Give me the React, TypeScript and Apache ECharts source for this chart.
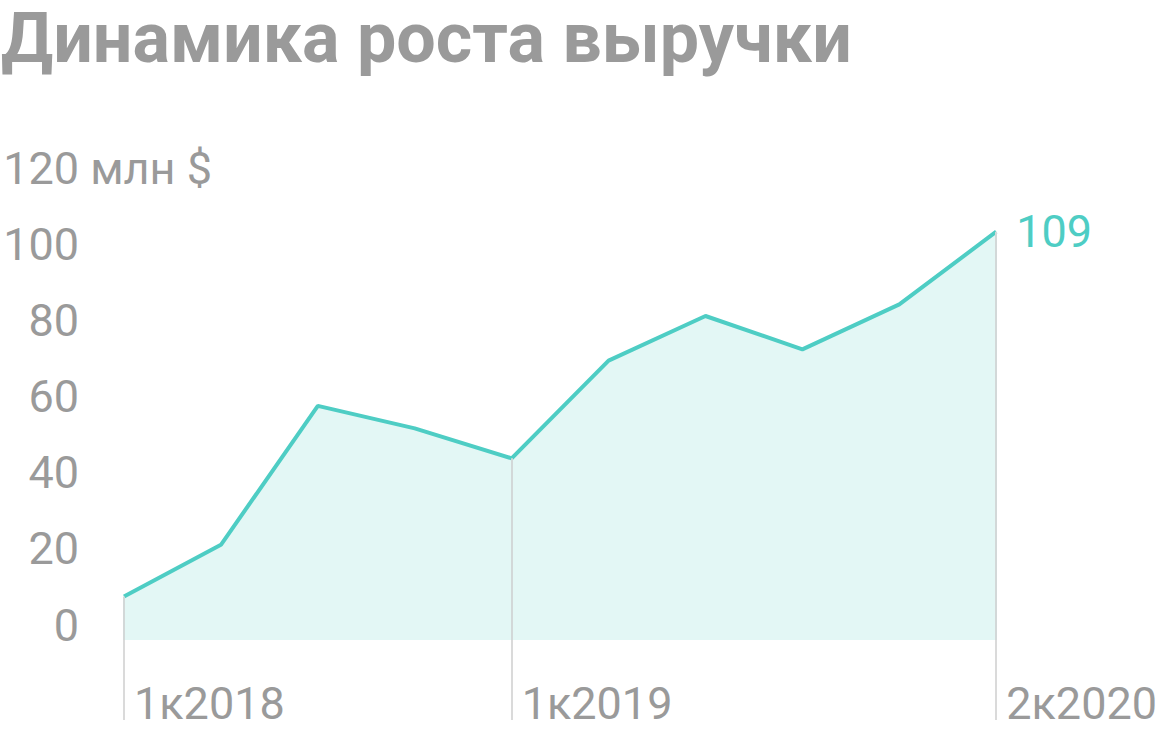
import React, { useEffect, useRef } from 'react';
import * as echarts from 'echarts';

const quarters = ['1к2018', '2к2018', '3к2018', '4к2018', '1к2019', '2к2019', '3к2019', '4к2019', '1к2020', '2к2020'];
const revenue = [11.6, 25.4, 62.5, 56.5, 48.5, 74.6, 86.5, 77.6, 89.6, 109];
const markedIdx = [0, 4, 9];
const yTicks = [0, 20, 40, 60, 80, 100, 120];
const unit = 'млн $';

const TEAL = '#4ecdc4';
const GRAY = '#9a9a9a';
const FONT = 'Roboto';
const FS = 45;

const App: React.FC = () => {
  const chartRef = useRef<HTMLDivElement>(null);

  useEffect(() => {
    if (!chartRef.current) return;
    const chart = echarts.init(chartRef.current, undefined, { renderer: 'svg' });

    const option = {
      animation: false,
      textStyle: { fontFamily: FONT },
      title: {
        text: 'Динамика роста выручки',
        left: 1,
        top: 3,
        padding: 0,
        textStyle: { fontSize: 70, fontWeight: 'bold', color: GRAY, fontFamily: FONT },
      },
      grid: [
        { left: 124, right: 163, top: 190.5, bottom: 96 },
        { left: 79, right: 163, top: 168.5, bottom: 111 },
      ],
      xAxis: [
        {
          type: 'category',
          gridIndex: 0,
          data: quarters,
          boundaryGap: false,
          axisLine: { show: false },
          axisTick: {
            show: true,
            length: 80,
            interval: (i: number) => markedIdx.includes(i),
            lineStyle: { color: '#dadada', width: 2 },
          },
          axisLabel: {
            interval: (i: number) => markedIdx.includes(i),
            align: 'left',
            verticalAlign: 'middle',
            margin: 63,
            padding: [0, 0, 0, 10],
            fontSize: FS,
            color: GRAY,
            fontFamily: FONT,
          },
          splitLine: { show: false },
        },
        { type: 'value', gridIndex: 1, show: false },
      ],
      yAxis: [
        { type: 'value', gridIndex: 0, min: 0, max: 120, show: false },
        {
          type: 'value',
          gridIndex: 1,
          min: 0,
          max: 120,
          interval: 20,
          axisLine: { show: false },
          axisTick: { show: false },
          splitLine: { show: false },
          axisLabel: {
            show: true,
            margin: 79,
            align: 'left',
            verticalAlign: 'middle',
            fontSize: FS,
            color: GRAY,
            fontFamily: FONT,
            showMinLabel: true,
            showMaxLabel: true,
            formatter: (v: number) => {
              if (!yTicks.includes(v)) return '';
              return v === 120 ? `{n|${v}}{u| ${unit}}` : `{n|${v}}`;
            },
            rich: {
              n: { width: 79, align: 'right', fontSize: FS, color: GRAY, fontFamily: FONT },
              u: { align: 'right', fontSize: FS, color: GRAY, fontFamily: FONT },
            },
          },
        },
      ],
      series: [
        {
          type: 'line',
          xAxisIndex: 0,
          yAxisIndex: 0,
          data: revenue,
          symbol: 'none',
          lineStyle: { color: TEAL, width: 4 },
          itemStyle: { color: TEAL },
          areaStyle: { color: '#e3f7f5', opacity: 1 },
          endLabel: {
            show: true,
            formatter: '{c}',
            distance: 20,
            fontSize: FS,
            color: TEAL,
            fontFamily: FONT,
          },
          markLine: {
            silent: true,
            symbol: ['none', 'none'],
            label: { show: false },
            lineStyle: { color: '#d2d8d8', width: 2, type: 'solid' },
            data: markedIdx.map((i) => [
              { coord: [quarters[i], revenue[i]] },
              { coord: [quarters[i], 0] },
            ]),
          },
        },
      ],
    };

    chart.setOption(option);
    return () => {
      chart.dispose();
    };
  }, []);

  return (
    <div
      ref={chartRef}
      style={{ position: 'fixed', left: 0, top: 0, width: '1160px', height: '736px', background: '#fff' }}
    />
  );
};

export default App;
